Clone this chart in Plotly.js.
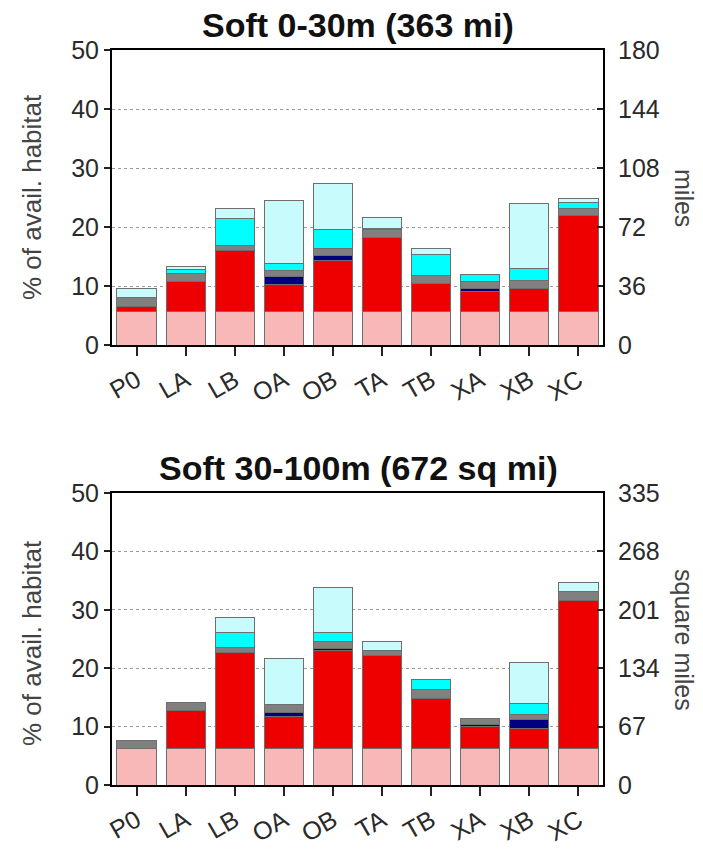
<!DOCTYPE html>
<html>
<head>
<meta charset="utf-8">
<script src="https://cdn.plot.ly/plotly-3.0.1.min.js"></script>
<style>html,body{margin:0;padding:0;background:#fff;}#chart{width:703px;height:850px;}</style>
</head>
<body>
<div id="chart"></div>
<script>
// Categories (x tick labels)
const categories = ["P0","LA","LB","OA","OB","TA","TB","XA","XB","XC"];

// Top panel: Soft 0-30m, segment heights (% of available habitat)
const top_pink      = [5.7, 5.7, 5.7, 5.7, 5.7, 5.7, 5.7, 5.7, 5.7, 5.7];
const top_red       = [0.8, 5.07, 10.4, 4.6, 8.59, 12.55, 4.8, 3.37, 3.88, 16.24];
const top_navy      = [0, 0, 0, 1.38, 0.96, 0, 0, 0.57, 0, 0];
const top_gray      = [1.55, 1.36, 0.74, 1.02, 1.19, 1.25, 1.35, 1.13, 1.42, 1.13];
const top_cyan      = [0, 0.74, 4.53, 1.13, 3.16, 0.2, 3.55, 1.13, 2.04, 1.13];
const top_lightcyan = [1.45, 0.51, 1.7, 10.67, 7.7, 1.84, 1.04, 0, 10.86, 0.7];

// Bottom panel: Soft 30-100m, segment heights (% of available habitat)
const bot_pink      = [6.3, 6.3, 6.3, 6.3, 6.3, 6.3, 6.3, 6.3, 6.3, 6.3];
const bot_red       = [0, 6.4, 16.4, 5.42, 16.74, 15.88, 8.45, 3.71, 3.42, 25.31];
const bot_navy      = [0, 0, 0, 0.75, 0.4, 0, 0, 0.4, 1.55, 0];
const bot_gray      = [1.25, 1.42, 0.85, 1.25, 1.14, 0.86, 1.55, 1.03, 0.85, 1.54];
const bot_cyan      = [0, 0, 2.56, 0, 1.6, 0, 1.71, 0, 1.89, 0];
const bot_lightcyan = [0, 0, 2.59, 8.0, 7.72, 1.54, 0, 0, 6.97, 1.55];

// Axis ticks
const left_ticks = [0, 10, 20, 30, 40, 50];
const top_right_ticks = [0, 36, 72, 108, 144, 180];
const bot_right_ticks = [0, 67, 134, 201, 268, 335];

const colors = ["#F8B8B8", "#EE0000", "#000080", "#808080", "#00FFFF", "#C8FCFC"];
const topSeries = [top_pink, top_red, top_navy, top_gray, top_cyan, top_lightcyan];
const botSeries = [bot_pink, bot_red, bot_navy, bot_gray, bot_cyan, bot_lightcyan];

const data = [];
function addStack(series, xa, ya) {
  series.forEach((vals, i) => {
    data.push({
      type: 'bar', x: categories, y: vals.map(v => v === 0 ? null : v),
      xaxis: xa, yaxis: ya, showlegend: false, hoverinfo: 'skip',
      marker: {color: colors[i], line: {color: '#6e6e6e', width: 1}}
    });
  });
}
addStack(topSeries, 'x', 'y');
addStack(botSeries, 'x2', 'y2');
// placeholder traces so the right-hand axes are drawn
data.push({type:'scatter', x:[categories[0]], y:[null], xaxis:'x', yaxis:'y3', showlegend:false, hoverinfo:'skip'});
data.push({type:'scatter', x:[categories[0]], y:[null], xaxis:'x2', yaxis:'y4', showlegend:false, hoverinfo:'skip'});

const W = 703, H = 850;
const xdom = [112/W, 603/W];
const topDom = [1 - 345/H, 1 - 50/H];
const botDom = [1 - 785/H, 1 - 493/H];
const FAM = 'Liberation Sans, Arial, sans-serif';
const tickFont = {family: FAM, size: 25, color: '#2a2a2a'};

function xAxis(anchor) {
  return {domain: xdom, anchor: anchor, type: 'category', range: [-0.5, 9.5],
    showline: true, mirror: true, linecolor: '#000', linewidth: 2,
    ticks: 'outside', ticklen: 9, tickwidth: 2, tickcolor: '#222',
    tickangle: -30, tickfont: tickFont, showgrid: false, automargin: false, fixedrange: true};
}
function yLeft(anchor, dom) {
  return {domain: dom, anchor: anchor, range: [0, 50], tickvals: left_ticks,
    showline: true, linecolor: '#000', linewidth: 2, mirror: false,
    ticks: 'outside', ticklen: 6, tickwidth: 2, tickcolor: '#222',
    tickfont: tickFont, showgrid: true, gridcolor: '#9a9a9a', griddash: 'dot', gridwidth: 1,
    zeroline: false, automargin: false, fixedrange: true};
}
function yRight(anchor, over, maxv, ticks) {
  return {overlaying: over, anchor: anchor, side: 'right', range: [0, maxv], tickvals: ticks,
    showline: true, linecolor: '#000', linewidth: 2,
    ticks: 'inside', ticklen: 6, tickwidth: 2, tickcolor: '#222', ticklabelstandoff: 8,
    tickfont: tickFont, showgrid: false, zeroline: false, automargin: false, fixedrange: true};
}
function ann(text, px, py, size, color, angle) {
  return {text: text, xref: 'paper', yref: 'paper', x: px/W, y: 1 - py/H,
    xanchor: 'center', yanchor: 'middle', textangle: angle || 0,
    showarrow: false, font: {family: FAM, size: size, color: color}};
}

const layout = {
  width: W, height: H,
  margin: {l: 0, r: 0, t: 0, b: 0},
  paper_bgcolor: '#fff', plot_bgcolor: '#fff',
  barmode: 'stack', bargap: 0.2,
  showlegend: false,
  xaxis: xAxis('y'),
  yaxis: yLeft('x', topDom),
  xaxis2: xAxis('y2'),
  yaxis2: yLeft('x2', botDom),
  yaxis3: yRight('x', 'y', 180, top_right_ticks),
  yaxis4: yRight('x2', 'y2', 335, bot_right_ticks),
  annotations: [
    ann('<b>Soft 0-30m (363 mi)</b>', 358, 25, 34, '#111'),
    ann('<b>Soft 30-100m (672 sq mi)</b>', 358, 468, 34, '#111'),
    ann('% of avail. habitat', 32, 197, 26, '#444', -90),
    ann('% of avail. habitat', 32, 643, 26, '#444', -90),
    ann('miles', 684, 198, 25, '#444', 90),
    ann('square miles', 684, 640, 25, '#444', 90)
  ]
};

Plotly.newPlot('chart', data, layout, {staticPlot: true, displayModeBar: false});
</script>
</body>
</html>
